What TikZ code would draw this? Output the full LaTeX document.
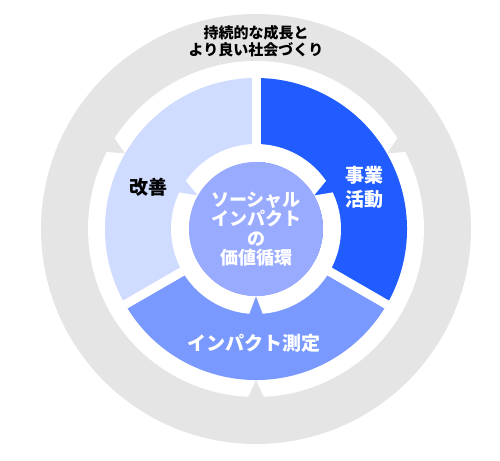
\documentclass[tikz,border=0pt]{standalone}
\usepackage{fontspec}
\setmainfont{Noto Sans CJK JP}
\usepackage{xcolor}
\definecolor{ringgrey}{HTML}{E5E5E5}
\definecolor{actblue}{HTML}{205CFF}
\definecolor{measureblue}{HTML}{7A99FF}
\definecolor{improveblue}{HTML}{CFDBFF}
\definecolor{coreblue}{HTML}{99ABFF}
\tikzset{
    lbl/.style={font=\bfseries\fontsize{19}{24}\selectfont, align=center, inner sep=0pt},
}

\begin{document}
\begin{tikzpicture}[x=1pt, y=1pt]
    \useasboundingbox (-256,-231) rectangle (244,229);

    % Outer grey ring with its white band
        \fill[ringgrey] (0,0) circle (215);
        \fill[white] (0,0) circle (151);
        \foreach \g in {30,150,270}
            \fill[white] (\g+2.7:168) arc[start angle=\g+2.7, end angle=\g+117.3, radius=168]
                -- (\g+120:151) arc[start angle=\g+120, end angle=\g, radius=151] -- cycle;

        % Three sectors of the cycle
        \fill[actblue] (0,0) -- (-30:151) arc[start angle=-30, end angle=90, radius=151] -- cycle;
        \fill[improveblue] (0,0) -- (90:151) arc[start angle=90, end angle=210, radius=151] -- cycle;
        \fill[measureblue] (0,0) -- (210:151) arc[start angle=210, end angle=330, radius=151] -- cycle;
        \foreach \a in {90,-30,210}
            \draw[white, line width=9pt] (0,0) -- (\a:152);

        % Inner white band and core
        \foreach \g in {30,150,270}
            \fill[white] (\g+4.5:85) arc[start angle=\g+4.5, end angle=\g+115.5, radius=85]
                -- (\g+120:67) arc[start angle=\g+120, end angle=\g, radius=67] -- cycle;
        \fill[coreblue] (0,0) circle (67);

        % Labels
        \node[lbl, font=\bfseries\fontsize{15}{17}\selectfont] (goal) at (0,187.5) {持続的な成長と\\より良い社会づくり};
        \node[lbl, white, font=\bfseries\fontsize{18}{19.5}\selectfont] (core) at (0,0) {ソーシャル\\インパクト\\の\\価値循環};
        \node[lbl, white] (act) at (108,42) {事業\\活動};
        \node[lbl, white] (measure) at (-2,-114) {インパクト測定};
        \node[lbl] (improve) at (-107,42) {改善};
\end{tikzpicture}
\end{document}
